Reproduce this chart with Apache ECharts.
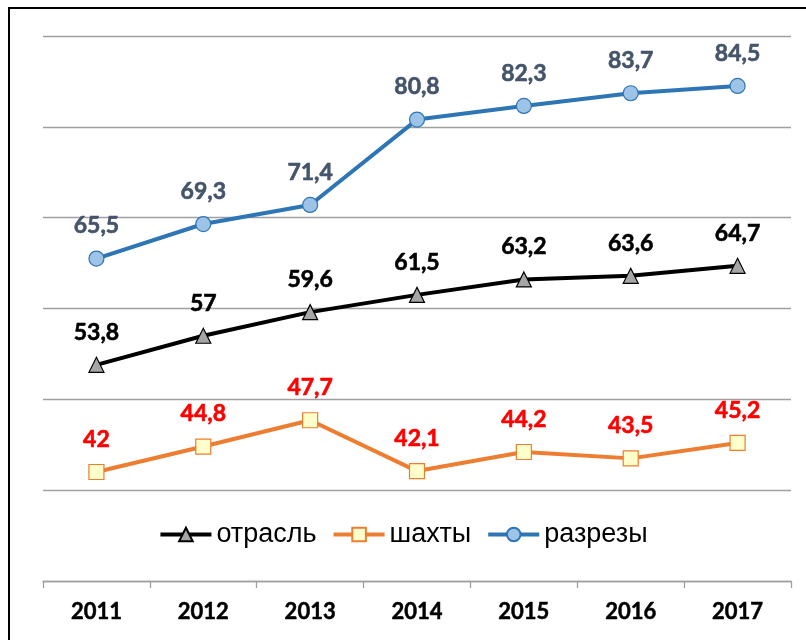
<!DOCTYPE html>
<html>
<head>
<meta charset="utf-8">
<script src="https://cdn.jsdelivr.net/npm/echarts@6/dist/echarts.min.js"></script>
<style>
  html, body { margin: 0; padding: 0; background: #fff; overflow: hidden; }
  #frame { position: absolute; left: 8px; top: 7px; width: 900px; height: 800px; border: 2px solid #000; box-sizing: border-box; }
  #chart { position: absolute; left: 0; top: 0; width: 806px; height: 640px; }
</style>
</head>
<body>
<div id="frame"></div>
<div id="chart"></div>
<script>
// Years along the category axis
const years = ['2011', '2012', '2013', '2014', '2015', '2016', '2017'];
// Industry total
const otrasl = [53.8, 57, 59.6, 61.5, 63.2, 63.6, 64.7];
// Underground mines
const shakhty = [42, 44.8, 47.7, 42.1, 44.2, 43.5, 45.2];
// Open-pit mines
const razrezy = [65.5, 69.3, 71.4, 80.8, 82.3, 83.7, 84.5];

const labelFont = 'Lato, "Open Sans", sans-serif';
const fmt = p => String(p.value).replace('.', ',');

function lineSeries(name, data, lineColor, symbol, fill, border, labelColor) {
  return {
    name: name,
    type: 'line',
    data: data,
    symbol: symbol,
    symbolSize: 15,
    lineStyle: { color: lineColor, width: 4 },
    itemStyle: { color: fill, borderColor: border, borderWidth: 1.2 },
    label: {
      show: true,
      position: 'top',
      distance: 13,
      formatter: fmt,
      color: labelColor,
      fontFamily: labelFont,
      fontWeight: 'bold',
      fontSize: 23,
      textBorderColor: labelColor,
      textBorderWidth: 0.6
    },
    emphasis: { disabled: true },
    animation: false
  };
}

const chart = echarts.init(document.getElementById('chart'), null, { renderer: 'canvas' });
chart.setOption({
  backgroundColor: 'transparent',
  animation: false,
  grid: { left: 43, right: 15, top: 36, bottom: 59 },
  legend: {
    bottom: 87,
    left: 'center',
    itemWidth: 51,
    itemHeight: 17,
    itemGap: 15,
    lineStyle: { width: 4 },
    textStyle: { fontFamily: '"Liberation Sans", Arial, sans-serif', fontSize: 27, color: '#000' },
    data: ['отрасль', 'шахты', 'разрезы']
  },
  xAxis: {
    type: 'category',
    data: years,
    boundaryGap: true,
    axisLine: { lineStyle: { color: '#A0A0A0', width: 1.3 } },
    axisTick: { show: true, length: 7, lineStyle: { color: '#A0A0A0', width: 1.3 } },
    axisLabel: {
      color: '#000', fontFamily: labelFont, fontWeight: 'bold', fontSize: 22, margin: 20,
      textBorderColor: '#000', textBorderWidth: 0.5
    }
  },
  yAxis: {
    type: 'value',
    min: 30,
    max: 90,
    interval: 10,
    axisLine: { show: false },
    axisTick: { show: false },
    axisLabel: { show: false },
    splitLine: { lineStyle: { color: '#A0A0A0', width: 1.3 } }
  },
  series: [
    lineSeries('отрасль', otrasl, '#000000', 'triangle', '#A6A6A6', '#000000', '#000000'),
    lineSeries('шахты', shakhty, '#ED7D31', 'rect', '#FFFFCC', '#ED7D31', '#FF0000'),
    lineSeries('разрезы', razrezy, '#2E75B6', 'circle', '#9DC3E6', '#2E75B6', '#44546A')
  ]
});
</script>
</body>
</html>
